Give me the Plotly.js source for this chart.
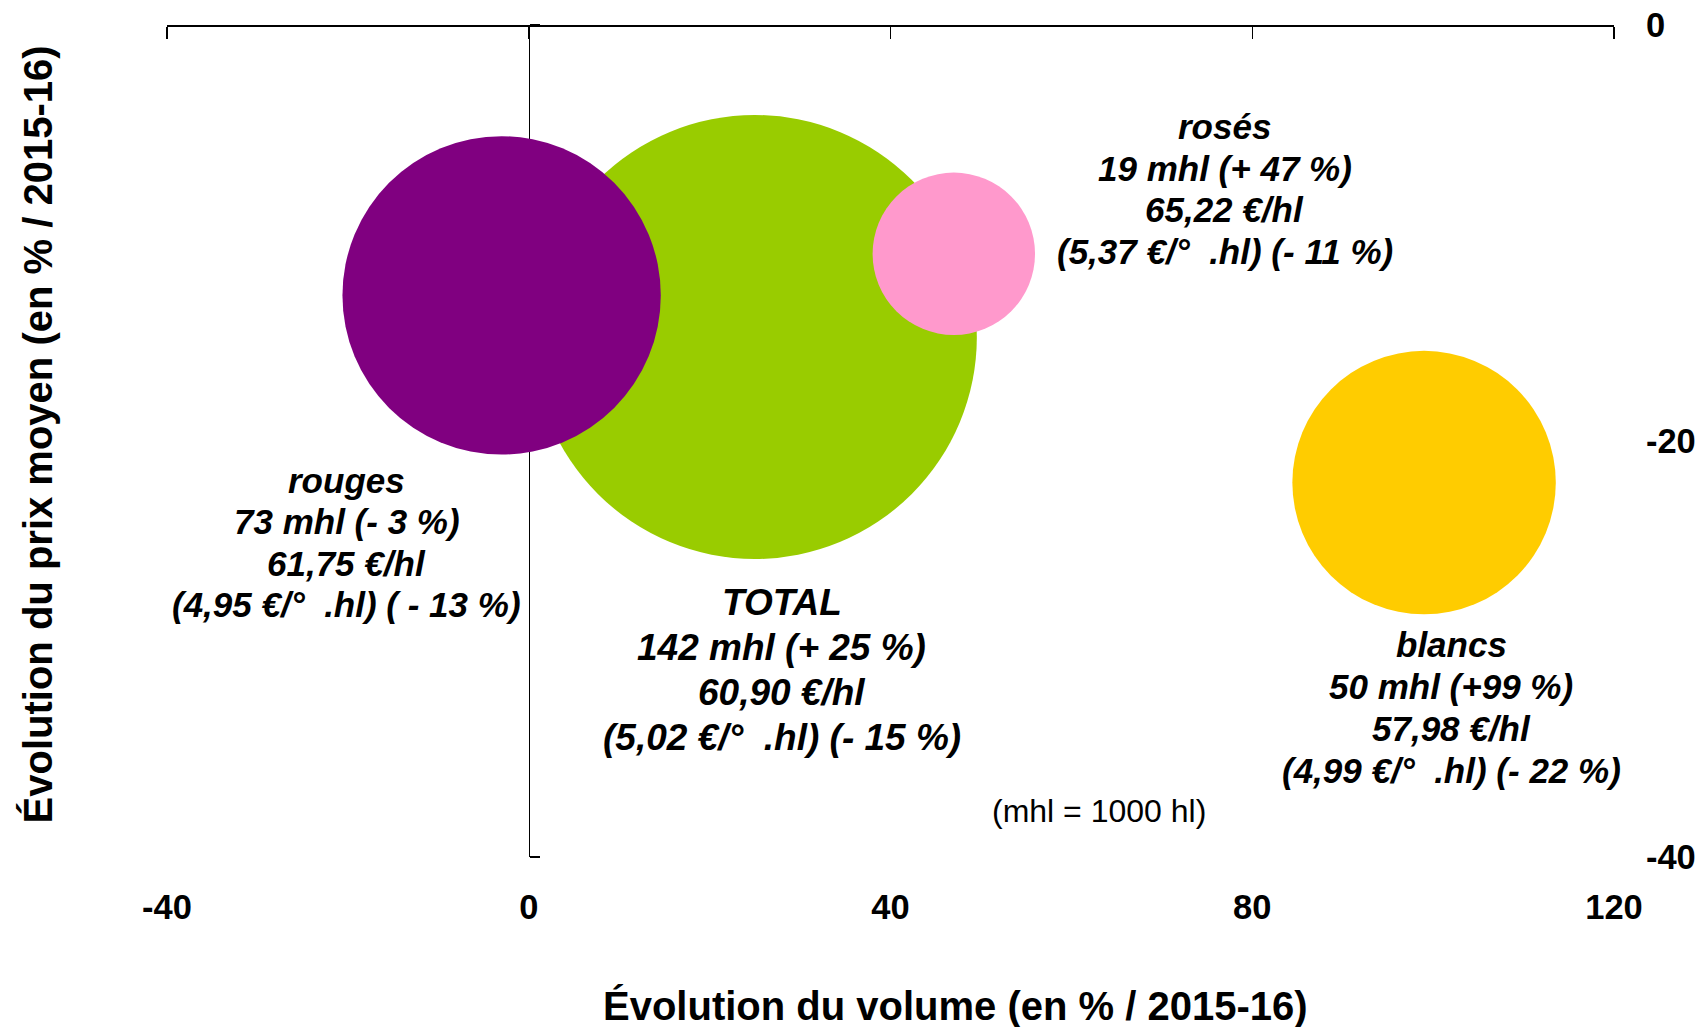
<!DOCTYPE html>
<html>
<head>
<meta charset="utf-8">
<script src="https://cdn.plot.ly/plotly-3.0.1.min.js"></script>
<style>
  html, body { margin: 0; padding: 0; background: #ffffff; }
  #chart { width: 1698px; height: 1027px; }
</style>
</head>
<body>
<div id="chart"></div>
<script>
// ---------- data ----------
const categories   = ['rouges', 'rosés', 'blancs', 'TOTAL'];
const volumeChange = [-3, 47, 99, 25];        // % vs 2015-16 (x)
const priceChange  = [-13, -11, -22, -15];    // % vs 2015-16 (y)
const volumeMhl    = [73, 19, 50, 142];       // bubble size (mhl)

const labelVolume  = ['73 mhl (- 3 %)', '19 mhl (+ 47 %)', '50 mhl (+99 %)', '142 mhl (+ 25 %)'];
const labelPrice   = ['61,75 €/hl', '65,22 €/hl', '57,98 €/hl', '60,90 €/hl'];
const labelDegree  = ['(4,95 €/°\u00A0 .hl) ( - 13 %)', '(5,37 €/°\u00A0 .hl) (- 11 %)',
                      '(4,99 €/°\u00A0 .hl) (- 22 %)', '(5,02 €/°\u00A0 .hl) (- 15 %)'];

const xTickVals  = [-40, 0, 40, 80, 120];
const xTickText  = ['-40', '0', '40', '80', '120'];
const yTickVals  = [0, -20, -40];
const yTickText  = ['0', '-20', '-40'];
const xTitle = 'Évolution du volume (en % / 2015-16)';
const yTitle = 'Évolution du prix moyen (en % / 2015-16)';
const noteText = '(mhl = 1000 hl)';

// ---------- styles ----------
const FONT = 'Liberation Sans, Arial, Helvetica, sans-serif';
const colors = {rouges: '#800080', 'rosés': '#FF99CC', blancs: '#FFCC00', TOTAL: '#99CC00'};
// label block centre offset from bubble centre (px), font size, line gap (px)
const labelStyle = {
  rouges:  {dx: -155, dy: -247, size: 35, gap: 41.5},
  'rosés': {dx: 271,  dy: 65,   size: 35, gap: 41.5},
  blancs:  {dx: 27,   dy: -225, size: 35, gap: 42},
  TOTAL:   {dx: 27,   dy: -333, size: 37, gap: 45}
};
const maxDiameter = 444;

// draw largest bubbles first so smaller ones sit on top
const order = categories.map((c, i) => i).sort((a, b) => volumeMhl[b] - volumeMhl[a]);

const bubbles = {
  type: 'scatter',
  mode: 'markers',
  x: order.map(i => volumeChange[i]),
  y: order.map(i => priceChange[i]),
  text: order.map(i => categories[i]),
  hoverinfo: 'text',
  cliponaxis: false,
  marker: {
    size: order.map(i => volumeMhl[i]),
    sizemode: 'area',
    sizeref: 2 * Math.max(...volumeMhl) / (maxDiameter * maxDiameter),
    color: order.map(i => colors[categories[i]]),
    opacity: 1,
    line: {width: 0}
  },
  showlegend: false
};

// empty trace that only activates the tick-label axes
const labelAxes = {
  type: 'scatter', mode: 'markers', x: [], y: [],
  xaxis: 'x2', yaxis: 'y2', showlegend: false, hoverinfo: 'skip'
};

const annotations = [];
categories.forEach((c, i) => {
  const st = labelStyle[c];
  const lines = [c, labelVolume[i], labelPrice[i], labelDegree[i]];
  lines.forEach((t, k) => {
    annotations.push({
      x: volumeChange[i], y: priceChange[i], xref: 'x', yref: 'y',
      xshift: st.dx, yshift: st.dy - (k - (lines.length - 1) / 2) * st.gap,
      xanchor: 'center', yanchor: 'middle', align: 'center',
      showarrow: false, text: t,
      font: {family: FONT, size: st.size, color: '#000', weight: 'bold', style: 'italic'}
    });
  });
});

annotations.push({
  xref: 'paper', yref: 'paper', x: 0.644, y: 0.055, xanchor: 'center', yanchor: 'middle',
  showarrow: false, text: noteText,
  font: {family: FONT, size: 32, color: '#000'}
});
annotations.push({
  xref: 'paper', yref: 'paper', x: 0.5446, y: -0.179, xanchor: 'center', yanchor: 'middle',
  showarrow: false, text: xTitle,
  font: {family: FONT, size: 40, color: '#000', weight: 'bold'}
});
annotations.push({
  xref: 'paper', yref: 'paper', x: -0.0891, y: 0.508, xanchor: 'center', yanchor: 'middle',
  textangle: -90, showarrow: false, text: yTitle,
  font: {family: FONT, size: 40, color: '#000', weight: 'bold'}
});

const tickFont = {family: FONT, size: 34.5, color: '#000', weight: 'bold'};

const layout = {
  width: 1698, height: 1027,
  margin: {l: 167, r: 84, t: 25, b: 170, pad: 0},
  paper_bgcolor: '#ffffff', plot_bgcolor: '#ffffff',
  font: {family: FONT, color: '#000'},
  showlegend: false,
  // top line axis (crosses at y = 0), ticks pointing down
  xaxis: {
    range: [-40, 120], anchor: 'free', position: 1, side: 'bottom',
    tickmode: 'array', tickvals: xTickVals, ticks: 'outside', ticklen: 12, tickwidth: 1.5, tickcolor: '#000',
    showline: true, linecolor: '#000', linewidth: 1.5,
    showticklabels: false, showgrid: false, zeroline: false, fixedrange: true, layer: 'below traces'
  },
  // bottom tick labels
  xaxis2: {
    range: [-40, 120], overlaying: 'x', side: 'bottom', anchor: 'y2',
    tickmode: 'array', tickvals: xTickVals, ticktext: xTickText,
    ticks: 'outside', ticklen: 20, tickcolor: 'rgba(0,0,0,0)',
    tickfont: tickFont, showline: false, showgrid: false, zeroline: false, fixedrange: true
  },
  // vertical line axis (crosses at x = 0), ticks pointing right
  yaxis: {
    range: [-40, 0], anchor: 'free', position: 0.25, side: 'right',
    tickmode: 'array', tickvals: yTickVals, ticks: 'outside', ticklen: 10, tickwidth: 1.5, tickcolor: '#000',
    showline: true, linecolor: '#000', linewidth: 1.5,
    showticklabels: false, showgrid: false, zeroline: false, fixedrange: true, layer: 'below traces'
  },
  // right-hand tick labels
  yaxis2: {
    range: [-40, 0], overlaying: 'y', anchor: 'x2', side: 'right',
    tickmode: 'array', tickvals: yTickVals, ticktext: yTickText,
    ticks: 'outside', ticklen: 24, tickcolor: 'rgba(0,0,0,0)',
    tickfont: tickFont, showline: false, showgrid: false, zeroline: false, fixedrange: true
  },
  annotations: annotations
};

Plotly.newPlot('chart', [bubbles, labelAxes], layout, {displayModeBar: false, staticPlot: true});
</script>
</body>
</html>
